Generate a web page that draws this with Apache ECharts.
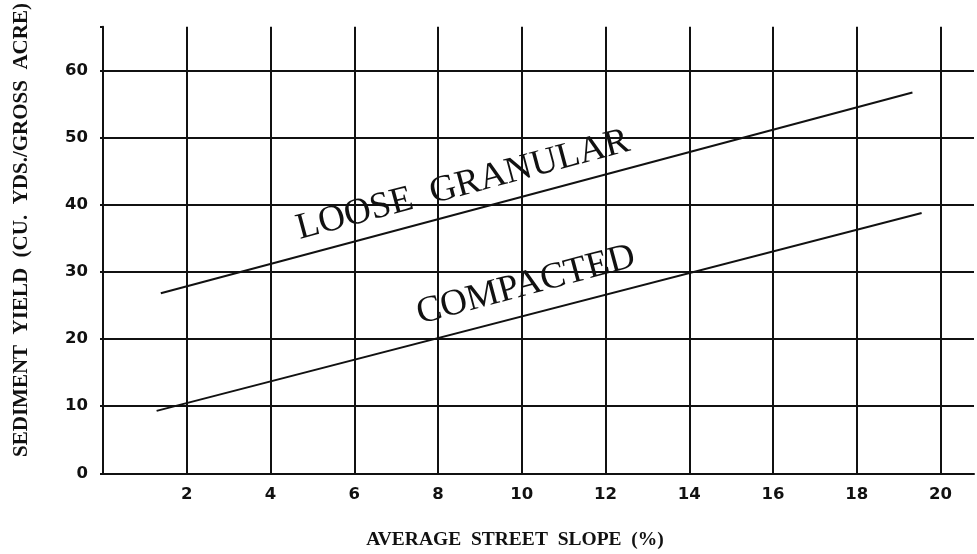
<!DOCTYPE html>
<html>
<head>
<meta charset="utf-8">
<script src="https://cdn.jsdelivr.net/npm/echarts@6/dist/echarts.min.js"></script>
<style>
  html, body { margin: 0; padding: 0; background: #fff; }
  #chart { width: 977px; height: 554px; }
</style>
</head>
<body>
<div id="chart"></div>
<script>
// Sediment yield vs. average street slope, two soil conditions
const xTicks = [0, 2, 4, 6, 8, 10, 12, 14, 16, 18, 20];
const yTicks = [0, 10, 20, 30, 40, 50, 60];

const looseGranular = [[1.38, 26.8], [19.33, 56.7]];
const compacted = [[1.28, 9.3], [19.55, 38.75]];

// label anchor points (slope %, yield) and their text
const looseLabelAt = [8.6, 42.9];
const compactedLabelAt = [10.1, 28.0];
const looseText = 'LOOSE  GRANULAR';
const compactedText = 'COMPACTED';

const xTitle = 'AVERAGE  STREET  SLOPE  (%)';
const yTitle = 'SEDIMENT  YIELD  (CU.  YDS./GROSS  ACRE)';

const ink = '#111';
const tickFont = { color: ink, fontFamily: 'DejaVu Sans, Verdana, sans-serif', fontSize: 16.5, fontWeight: 'bold' };

// grid lines at every labelled tick; the extra boundary line at the axis end stays hidden
const xGridColors = xTicks.map(() => ink).concat(['rgba(0,0,0,0)']);
const yGridColors = yTicks.map(() => ink).concat(['rgba(0,0,0,0)']);

function curveLabel(at, text) {
  return {
    symbol: 'circle',
    symbolSize: 0,
    data: [{
      coord: at,
      label: {
        show: true,
        position: 'inside',
        formatter: text,
        rotate: 15,
        color: ink,
        fontFamily: 'Liberation Serif, Times New Roman, serif',
        fontSize: 37,
        align: 'center',
        verticalAlign: 'middle'
      }
    }]
  };
}

const chart = echarts.init(document.getElementById('chart'), null, { renderer: 'canvas' });
chart.setOption({
  animation: false,
  backgroundColor: '#fff',
  grid: { left: 103, right: 0, top: 26.7, bottom: 80.7 },
  xAxis: {
    type: 'value',
    min: xTicks[0],
    max: 20.8,
    interval: 2,
    axisLine: { show: true, onZero: false, lineStyle: { color: ink, width: 2 } },
    axisTick: { show: false },
    splitLine: { show: true, lineStyle: { color: xGridColors, width: 2 } },
    axisLabel: {
      ...tickFont,
      margin: 13,
      formatter: v => (xTicks.indexOf(v) > 0 ? String(v) : '')
    }
  },
  yAxis: {
    type: 'value',
    min: yTicks[0],
    max: 66.5,
    interval: 10,
    axisLine: { show: true, lineStyle: { color: ink, width: 2 } },
    axisTick: { show: true, length: 3, lineStyle: { color: yGridColors, width: 2 } },
    splitLine: { show: true, lineStyle: { color: yGridColors, width: 2 } },
    axisLabel: {
      ...tickFont,
      margin: 15,
      formatter: v => (yTicks.indexOf(v) >= 0 ? String(v) : '')
    }
  },
  graphic: [
    {
      type: 'text',
      style: {
        text: xTitle,
        x: 515, y: 540,
        align: 'center', verticalAlign: 'middle',
        fill: ink,
        font: 'bold 19.5px "Liberation Serif", "Times New Roman", serif'
      }
    },
    {
      type: 'text',
      x: 22, y: 230,
      rotation: Math.PI / 2,
      style: {
        text: yTitle,
        x: 0, y: 0,
        align: 'center', verticalAlign: 'middle',
        fill: ink,
        font: 'bold 21px "Liberation Serif", "Times New Roman", serif'
      }
    }
  ],
  series: [
    {
      name: looseText,
      type: 'line',
      data: looseGranular,
      symbol: 'none',
      lineStyle: { color: ink, width: 2 },
      markPoint: curveLabel(looseLabelAt, looseText)
    },
    {
      name: compactedText,
      type: 'line',
      data: compacted,
      symbol: 'none',
      lineStyle: { color: ink, width: 2 },
      markPoint: curveLabel(compactedLabelAt, compactedText)
    }
  ]
});
</script>
</body>
</html>
